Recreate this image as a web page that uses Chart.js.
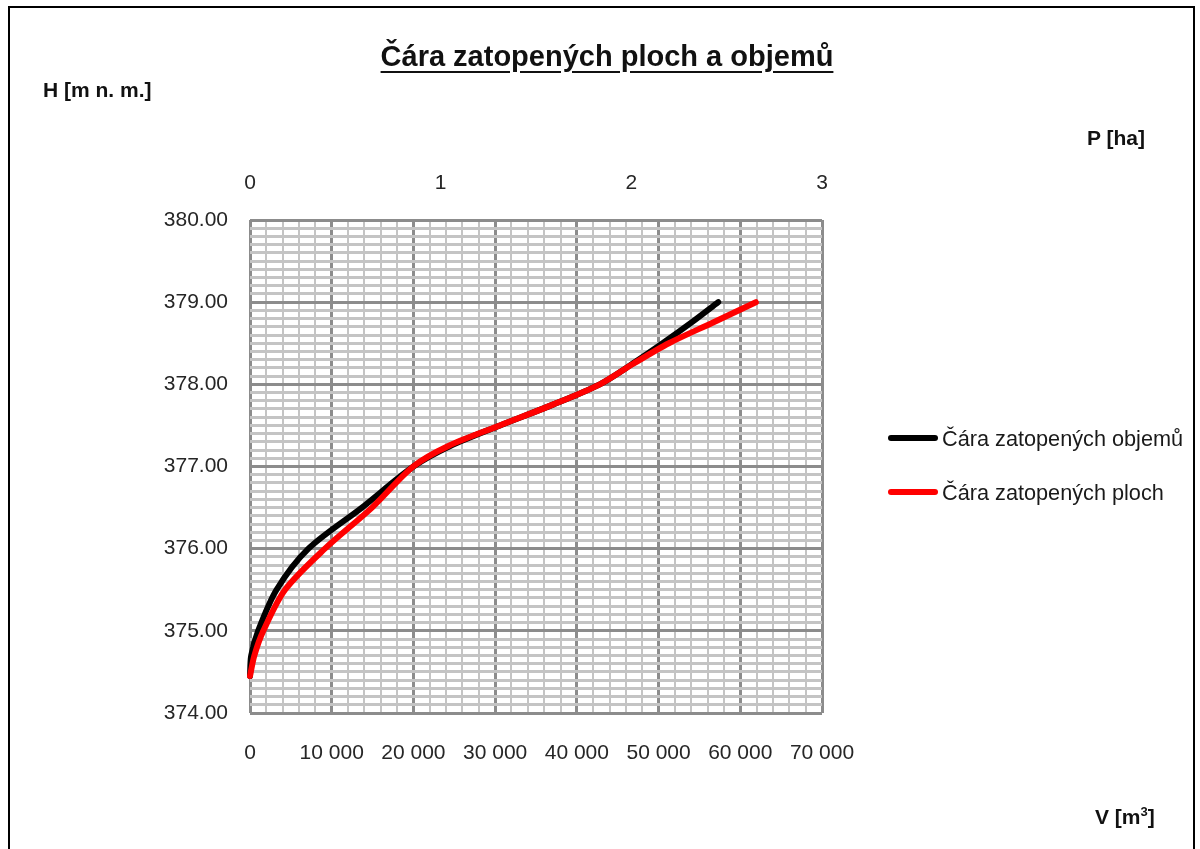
<!DOCTYPE html>
<html>
<head>
<meta charset="utf-8">
<script src="https://cdn.jsdelivr.net/npm/chart.js@4"></script>
<style>
  body { margin: 0; background: #fff; font-family: "Liberation Sans", Arial, sans-serif; }
  #wrap { position: relative; width: 1200px; height: 849px; overflow: hidden; }
  #frame { position: absolute; left: 8px; top: 6px; width: 1183px; height: 900px; border: 2px solid #000; }
  canvas { position: absolute; left: 0; top: 0; }
  .lbl { position: absolute; color: #111; white-space: nowrap; }
  .b { font-weight: bold; font-size: 21px; }
  #title { left: 0; width: 1214px; top: 40px; text-align: center; font-weight: bold; font-size: 29px; text-decoration: underline; text-underline-offset: 5px; }
  .leg { position: absolute; left: 888px; font-size: 21.7px; color: #1a1a1a; white-space: nowrap; }
  .leg span { display: inline-block; width: 50px; height: 6px; border-radius: 3px; vertical-align: middle; margin-right: 4px; position: relative; top: -2px; }
</style>
</head>
<body>
<div id="wrap">
  <div id="frame"></div>
  <canvas id="chart" width="1200" height="849"></canvas>
  <div id="title" class="lbl">Čára zatopených ploch a objemů</div>
  <div class="lbl b" style="left:43px; top:78px;">H [m n. m.]</div>
  <div class="lbl b" style="left:1087px; top:126px;">P [ha]</div>
  <div class="lbl b" style="left:1095px; top:804px;">V [m<sup style="font-size:13px;">3</sup>]</div>
  <div class="leg" style="top:426px;"><span style="background:#000;"></span>Čára zatopených objemů</div>
  <div class="leg" style="top:480px;"><span style="background:#ff0000;"></span>Čára zatopených ploch</div>
</div>
<script>
// hladiny H [m n. m.]
const hLevels = [374.45, 374.7, 375.0, 375.5, 376.0, 376.5, 377.0, 377.25, 377.5, 377.75, 378.0, 378.25, 378.5, 378.75, 379.0];
// objemy V [m3]
const volumes = [0, 150, 1000, 3250, 7150, 13700, 20000, 24500, 30600, 37000, 42800, 46800, 50500, 54000, 57300];
// plochy P [ha]
const areas = [0, 0.023, 0.07, 0.184, 0.393, 0.64, 0.856, 1.04, 1.31, 1.585, 1.835, 2.01, 2.197, 2.426, 2.653];

// osy
const vMajorTicks = [0, 10000, 20000, 30000, 40000, 50000, 60000, 70000];
const vMinorStep = 2000;
const hMajorTicks = [374, 375, 376, 377, 378, 379, 380];
const hMinorStep = 0.1;
const pTicks = [0, 1, 2, 3];

const majorColor = '#8c8c8c';
const minorColor = '#c4c4c4';
const tickFont = { family: '"Liberation Sans", Arial, sans-serif', size: 21 };

function minorTicks(major, step) {
    const out = [];
    const first = major[0], last = major[major.length - 1];
    const n = Math.round((last - first) / step);
    for (let i = 0; i <= n; i++) {
        out.push({ value: Math.round((first + i * step) * 1000) / 1000 });
    }
    return out;
}

const isMajor = (v, list) => list.some(m => Math.abs(m - v) < 1e-6);

const black = hLevels.map((h, i) => ({ x: volumes[i], y: h }));
const red = hLevels.map((h, i) => ({ x: areas[i], y: h }));

new Chart(document.getElementById('chart').getContext('2d'), {
    type: 'scatter',
    data: {
        datasets: [
            {
                label: 'Čára zatopených objemů',
                data: black,
                xAxisID: 'xV',
                borderColor: '#000000',
                backgroundColor: '#000000',
                borderWidth: 6,
                borderCapStyle: 'round',
                showLine: true,
                tension: 0.3,
                pointRadius: 0,
                clip: false,
                order: 2
            },
            {
                label: 'Čára zatopených ploch',
                data: red,
                xAxisID: 'xP',
                borderColor: '#ff0000',
                backgroundColor: '#ff0000',
                borderWidth: 6,
                borderCapStyle: 'round',
                showLine: true,
                tension: 0.3,
                pointRadius: 0,
                clip: false,
                order: 1
            }
        ]
    },
    options: {
        responsive: false,
        animation: false,
        layout: { padding: { left: 0, right: 378, top: 0, bottom: 0 } },
        plugins: { legend: { display: false }, tooltip: { enabled: false } },
        scales: {
            xV: {
                type: 'linear',
                position: 'bottom',
                min: 0,
                max: 70000,
                afterBuildTicks: s => { s.ticks = minorTicks(vMajorTicks, vMinorStep); },
                afterFit: s => { s.height = 136; },
                border: { display: false },
                grid: {
                    drawTicks: false,
                    color: c => isMajor(c.tick.value, vMajorTicks) ? majorColor : minorColor,
                    lineWidth: c => isMajor(c.tick.value, vMajorTicks) ? 3 : 2
                },
                ticks: {
                    autoSkip: false,
                    maxRotation: 0,
                    padding: 28,
                    color: '#262626',
                    font: tickFont,
                    callback: v => isMajor(v, vMajorTicks)
                        ? String(v).replace(/\B(?=(\d{3})+(?!\d))/g, ' ') : ''
                }
            },
            xP: {
                type: 'linear',
                position: 'top',
                min: 0,
                max: 3,
                afterBuildTicks: s => { s.ticks = pTicks.map(v => ({ value: v })); },
                afterFit: s => { s.height = 220; },
                border: { display: false },
                grid: { display: false, drawTicks: false },
                ticks: {
                    autoSkip: false,
                    maxRotation: 0,
                    padding: 24,
                    color: '#262626',
                    font: tickFont
                }
            },
            y: {
                type: 'linear',
                position: 'left',
                min: 374,
                max: 380,
                afterBuildTicks: s => { s.ticks = minorTicks(hMajorTicks, hMinorStep); },
                afterFit: s => { s.width = 250; },
                border: { display: false },
                grid: {
                    drawTicks: false,
                    color: c => isMajor(c.tick.value, hMajorTicks) ? majorColor : minorColor,
                    lineWidth: 3
                },
                ticks: {
                    autoSkip: false,
                    padding: 22,
                    color: '#262626',
                    font: tickFont,
                    callback: v => isMajor(v, hMajorTicks) ? v.toFixed(2) : ''
                }
            }
        }
    }
});
</script>
</body>
</html>
